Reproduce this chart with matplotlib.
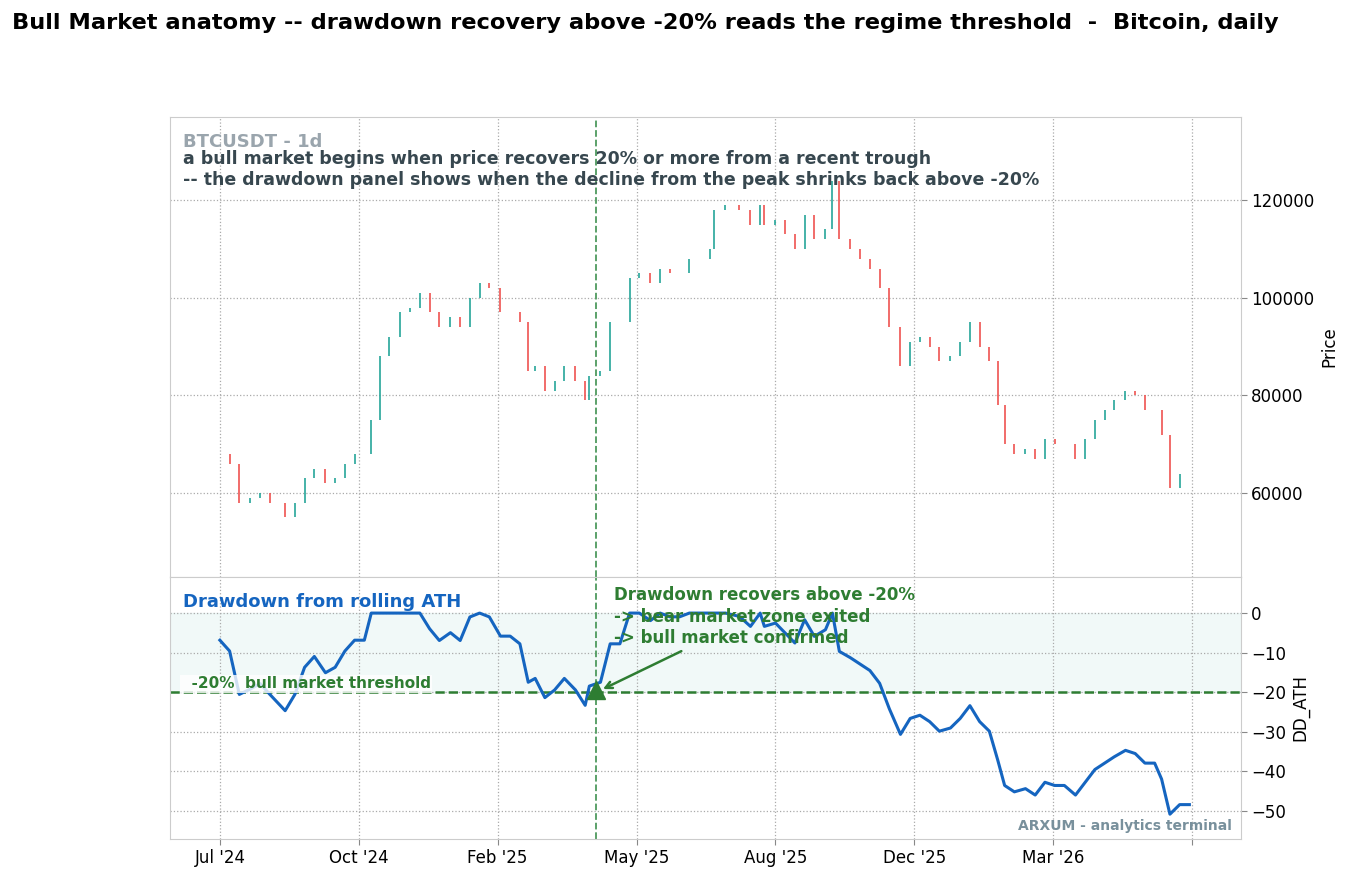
import matplotlib
matplotlib.use("Agg")
import matplotlib.pyplot as plt
import numpy as np

days = [0,7,14,22,29,36,47,54,61,68,76,83,90,97,104,109,115,122,130,137,144,151,158,166,173,180,187,194,202,209,216,222,227,234,241,248,256,263,266,274,281,288,295,302,310,317,324,331,338,346,353,356,364,374,382,389,392,400,407,414,421,428,436,441,446,454,461,468,475,482,490,497,504,511,518,526,533,540,547,554,560,565,572,580,587,594,601,608,616,623,630,637,644,652,659,666,673,678,684,691,698]
closes = [68000,66000,58000,59000,60000,58000,55000,58000,63000,65000,62000,63000,66000,68000,68000,75000,88000,92000,97000,98000,101000,97000,94000,96000,94000,100000,103000,102000,97000,97000,95000,85000,86000,81000,83000,86000,83000,79000,84000,85000,95000,95000,104000,105000,103000,106000,105000,105000,108000,108000,110000,118000,119000,118000,115000,119000,115000,116000,113000,110000,117000,112000,114000,124000,112000,110000,108000,106000,102000,94000,86000,91000,92000,90000,87000,88000,91000,95000,90000,87000,78000,70000,68000,69000,67000,71000,70000,70000,67000,71000,75000,77000,79000,81000,80000,77000,77000,72000,61000,64000,64000]
prior_ath = 73000
tick_pos = [0,100,200,300,400,500,600,700]
tick_labels = ["Jul '24","Oct '24","Feb '25","May '25","Aug '25","Dec '25","Mar '26",""]
signal_day = 271

d = np.array(days); c = np.array(closes, float)
o = np.r_[c[0], c[:-1]]
ath = np.maximum.accumulate(np.maximum(c, prior_ath))
dd = (c/ath - 1)*100

fig = plt.figure(figsize=(13.59, 8.81), dpi=100)
ax1 = fig.add_axes([0.125, 0.345, 0.788, 0.522])
ax2 = fig.add_axes([0.125, 0.048, 0.788, 0.297], sharex=ax1)
fig.text(0.009, 0.974, "Bull Market anatomy -- drawdown recovery above -20% reads the regime threshold  -  Bitcoin, daily",
         fontsize=16.2, fontweight='bold', va='center')

for ax in (ax1, ax2):
    ax.yaxis.tick_right(); ax.yaxis.set_label_position('right')
    ax.grid(True, ls=':', color='#aaaaaa', lw=0.9)
    for s in ax.spines.values(): s.set_color('#cccccc')
    ax.tick_params(labelsize=12, length=4, color='#888888')

cols = np.where(c >= o, '#26a69a', '#ef5350')
ax1.vlines(d, np.minimum(o, c), np.maximum(o, c), colors=cols, lw=1.2)
ax1.set_ylim(42800, 137000)
ax1.set_ylabel("Price", fontsize=12)
ax1.axvline(signal_day, color='#4e9a5e', ls='--', lw=1.3)
ax1.text(0.012, 0.965, "BTCUSDT - 1d", transform=ax1.transAxes, fontsize=13, fontweight='bold', color='#9aa5ad', va='top')
ax1.text(0.012, 0.928, "a bull market begins when price recovers 20% or more from a recent trough\n-- the drawdown panel shows when the decline from the peak shrinks back above -20%",
         transform=ax1.transAxes, fontsize=12.5, fontweight='bold', color='#37474f', va='top', linespacing=1.2)
plt.setp(ax1.get_xticklabels(), visible=False)

ax2.axhspan(-20, 0, color='#e0f2f1', alpha=0.45)
ax2.axhline(-20, color='#2e7d32', ls='--', lw=1.8)
ax2.plot(d, dd, color='#1565c0', lw=2.2)
ax2.axvline(signal_day, color='#4e9a5e', ls='--', lw=1.3)
ax2.plot([signal_day], [-19.5], marker='^', ms=13, color='#2e7d32')
ax2.text(-28, -19, "  -20%  bull market threshold", fontsize=11, fontweight='bold', color='#2e7d32',
         bbox=dict(fc='white', ec='none', alpha=0.8, pad=1))
ax2.annotate("Drawdown recovers above -20%\n-> bear market zone exited\n-> bull market confirmed",
             xy=(signal_day+3, -19.5), xytext=(284, 6.8), fontsize=12, fontweight='bold', color='#2e7d32', va='top',
             linespacing=1.25,
             arrowprops=dict(arrowstyle='->', color='#2e7d32', lw=1.8, relpos=(0.25, 0)))
ax2.text(0.992, 0.02, "ARXUM - analytics terminal", transform=ax2.transAxes, ha='right', va='bottom',
         fontsize=10, fontweight='bold', color='#78909c')
ax2.text(0.012, 0.94, "Drawdown from rolling ATH", transform=ax2.transAxes, fontsize=13, fontweight='bold', color='#1565c0', va='top')
ax2.set_ylim(-57, 9.1)
ax2.set_yticks([0,-10,-20,-30,-40,-50])
ax2.set_ylabel("DD_ATH", fontsize=12)
ax2.set_xlim(-36, 735)
ax2.set_xticks(tick_pos); ax2.set_xticklabels(tick_labels)
fig.savefig("out.png", dpi=100)
